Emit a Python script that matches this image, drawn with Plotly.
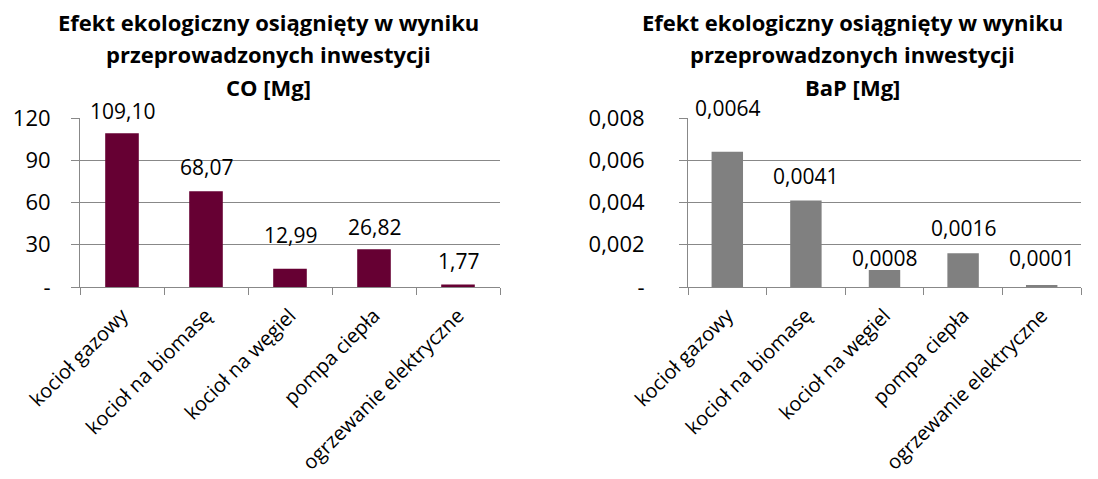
import plotly.graph_objects as go

categories = ['kocioł gazowy', 'kocioł na biomasę', 'kocioł na węgiel',
              'pompa ciepła', 'ogrzewanie elektryczne']
co_values = [109.10, 68.07, 12.99, 26.82, 1.77]
co_labels = ['109,10', '68,07', '12,99', '26,82', '1,77']
bap_values = [0.0064, 0.0041, 0.0008, 0.0016, 0.0001]
bap_labels = ['0,0064', '0,0041', '0,0008', '0,0016', '0,0001']

co_ticks = [0, 30, 60, 90, 120]
co_ticktext = ['-', '30', '60', '90', '120']
bap_ticks = [0, 0.002, 0.004, 0.006, 0.008]
bap_ticktext = ['-', '0,002', '0,004', '0,006', '0,008']

title_lines = ['Efekt ekologiczny osiągnięty w wyniku', 'przeprowadzonych inwestycji']
co_unit = 'CO [Mg]'
bap_unit = 'BaP [Mg]'

FONT = 'Open Sans'
GRID = '#888888'
# page body has an 8px margin; figure fills the rest of the window
OFF = 8
W, H = 1098 - OFF, 479 - OFF

# label lift above each bar (px), the original had hand-placed labels
co_label_lift = [6, 8, 18, 6, 8]
bap_label_lift = [28, 8, -4, 9, 11]


def xp(px):
    return (px - OFF) / W


def yp(py):
    return 1 - (py - OFF) / H


fig = go.Figure()

fig.add_trace(go.Bar(
    x=categories, y=co_values, cliponaxis=False,
    marker=dict(color='#660033', line=dict(width=0)),
    xaxis='x', yaxis='y', showlegend=False
))
fig.add_trace(go.Bar(
    x=categories, y=bap_values, cliponaxis=False,
    marker=dict(color='#808080', line=dict(width=0)),
    xaxis='x2', yaxis='y2', showlegend=False
))

for ax, vals, labels, lifts in [('', co_values, co_labels, co_label_lift),
                                ('2', bap_values, bap_labels, bap_label_lift)]:
    for cat, v, lab, lift in zip(categories, vals, labels, lifts):
        fig.add_annotation(
            x=cat, y=v, xref='x' + ax, yref='y' + ax, text=lab,
            showarrow=False, xanchor='center', yanchor='bottom', yshift=lift,
            font=dict(size=21, family=FONT, color='black'),
        )

y_dom = [yp(287), yp(118)]

xaxis_common = dict(
    showline=True, linecolor=GRID, linewidth=1,
    ticks='outside', ticklen=7, tickcolor=GRID, tickwidth=1,
    tickson='boundaries', tickangle=-45, tickfont=dict(size=20, color='black'),
    ticklabelstandoff=8, showgrid=False, automargin=False,
)
yaxis_common = dict(
    showline=True, linecolor=GRID, linewidth=1,
    showgrid=True, gridcolor=GRID, gridwidth=1,
    ticks='outside', ticklen=8, tickcolor=GRID, tickwidth=1,
    tickfont=dict(size=22, color='black'), zeroline=False, automargin=False,
)

fig.update_layout(
    width=W, height=H,
    margin=dict(l=0, r=0, t=0, b=0),
    paper_bgcolor='white', plot_bgcolor='white',
    font=dict(family=FONT, color='black'),
    bargap=0.6,
    xaxis=dict(domain=[xp(80), xp(500)], anchor='y', **xaxis_common),
    yaxis=dict(domain=y_dom, anchor='x', range=[0, 120],
               tickvals=co_ticks, ticktext=co_ticktext,
               ticklabelstandoff=16, **yaxis_common),
    xaxis2=dict(domain=[xp(688), xp(1081)], anchor='y2', **xaxis_common),
    yaxis2=dict(domain=y_dom, anchor='x2', range=[0, 0.008],
                tickvals=bap_ticks, ticktext=bap_ticktext,
                ticklabelstandoff=30, **yaxis_common),
)

line_y = [22, 54, 87]
for cx, unit in [(268, co_unit), (852, bap_unit)]:
    for text, py in zip(title_lines + [unit], line_y):
        fig.add_annotation(
            x=xp(cx), y=yp(py), xref='paper', yref='paper',
            text='<b>%s</b>' % text, showarrow=False,
            xanchor='center', yanchor='middle',
            font=dict(size=22, family=FONT, color='black'),
        )

fig.write_html('out.html')
